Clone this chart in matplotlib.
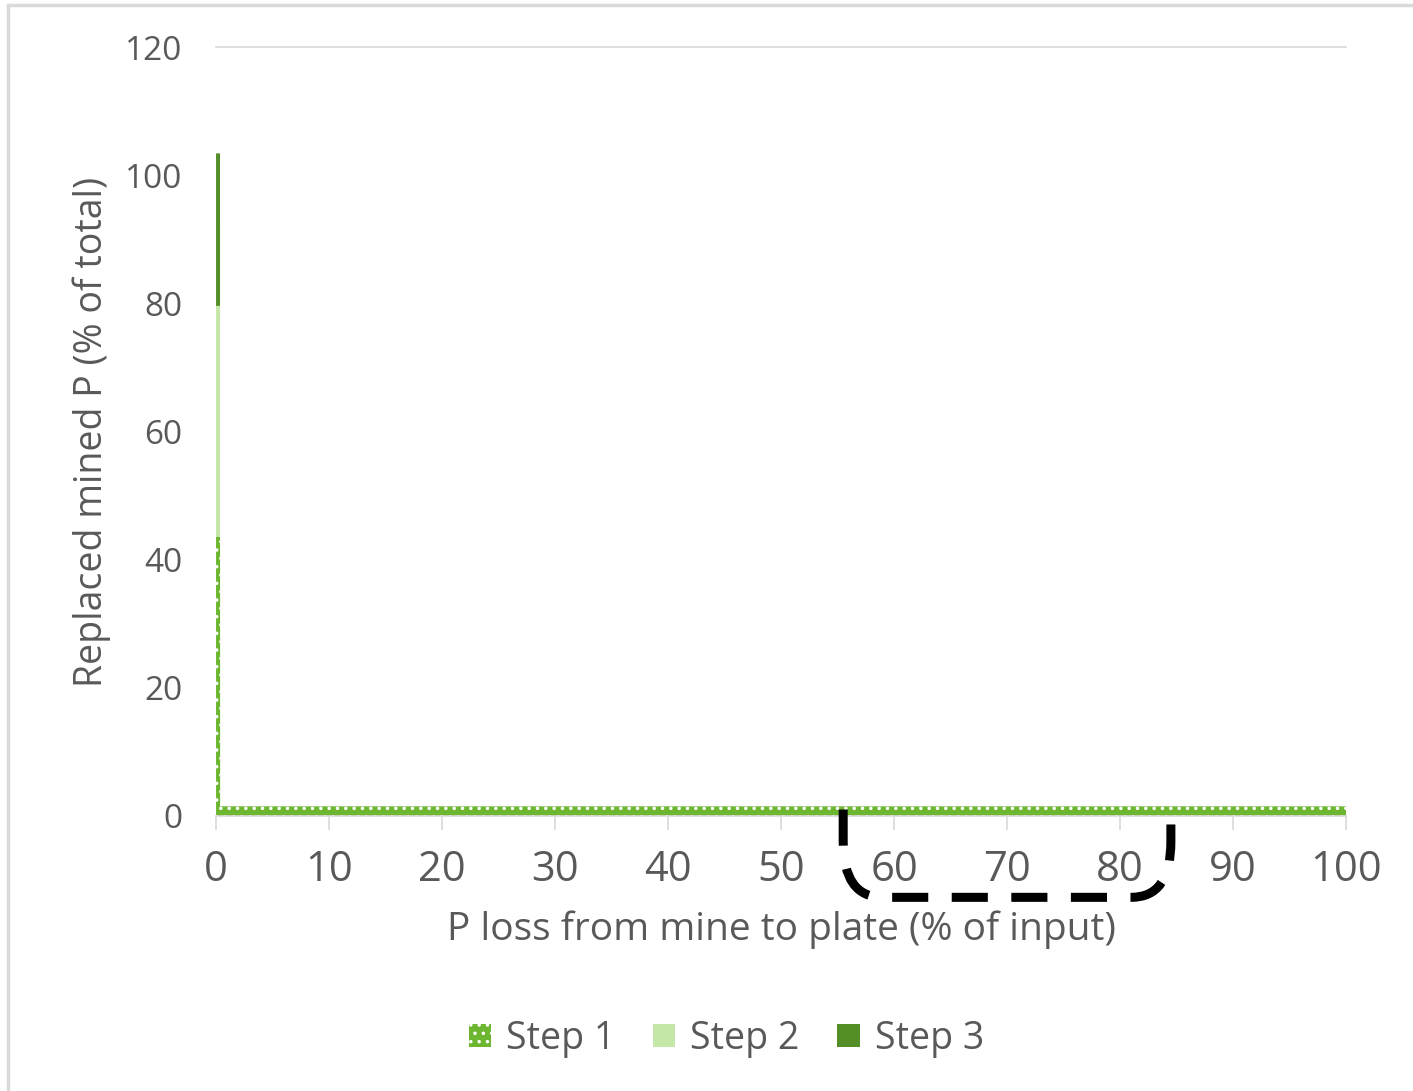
import numpy as np
import matplotlib.pyplot as plt
from matplotlib.path import Path
from matplotlib.patches import PathPatch, Patch

plt.rcParams['font.family'] = ['Open Sans', 'DejaVu Sans']
plt.rcParams['hatch.linewidth'] = 1.3

# data
p_loss = [0, 0.35, 0.36, 100]
step1 = [43.6, 43.6, 1.5, 1.5]
step2 = [36.0, 36.0, 0.0, 0.0]
step3 = [23.8, 23.8, 0.0, 0.0]
labels = ["Step 1", "Step 2", "Step 3"]
xticks = list(range(0, 101, 10))
yticks = list(range(0, 121, 20))

c1 = '#6db62f'
c2 = '#c5e8a9'
c3 = '#548e27'
grey = '#595959'

fig = plt.figure(figsize=(14.13, 10.91), dpi=100)
ax = fig.add_axes([0.1529, 0.2521, 0.7997, 0.7048])

s1 = np.array(step1)
s2 = s1 + np.array(step2)
s3 = s2 + np.array(step3)
ax.fill_between(p_loss, 0, s1, facecolor=c1, edgecolor='white', linewidth=0, hatch='..')
ax.fill_between(p_loss, s1, s2, facecolor=c2, linewidth=0)
ax.fill_between(p_loss, s2, s3, facecolor=c3, linewidth=0)

ax.set_xlim(0, 100)
ax.set_ylim(0, 120)
ax.axhline(120, color='#d9d9d9', lw=1.2, clip_on=False)
for s in ['top', 'right', 'left']:
    ax.spines[s].set_visible(False)
ax.spines['bottom'].set_color('#d9d9d9')
ax.spines['bottom'].set_linewidth(1.2)
ax.set_xticks(xticks)
ax.set_yticks(yticks)
ax.tick_params(axis='x', colors='#d9d9d9', length=10, width=1.2, labelcolor=grey, labelsize=30, pad=14)
ax.tick_params(axis='y', length=0, labelcolor=grey, labelsize=24, pad=24)
ax.set_xlabel("P loss from mine to plate (% of input)", fontsize=28, color=grey, labelpad=14)
ax.set_ylabel("Replaced mined P (% of total)", fontsize=27, color=grey, labelpad=10)

# hand-drawn dashed annotation below 60-80
verts = [(55.5, 1.0), (55.5, -4.0), (55.5, -12.7), (59.0, -12.7),
         (81.0, -12.7), (84.5, -12.7), (84.5, -4.0), (84.5, 1.5)]
codes = [Path.MOVETO, Path.LINETO, Path.CURVE3, Path.CURVE3,
         Path.LINETO, Path.CURVE3, Path.CURVE3, Path.LINETO]
ax.add_patch(PathPatch(Path(verts, codes), fill=False, edgecolor='black', lw=6.5,
                       linestyle=(0, (4.0, 2.6)), clip_on=False, zorder=5))

handles = [Patch(facecolor=c1, edgecolor='white', linewidth=0, hatch='..'),
           Patch(facecolor=c2), Patch(facecolor=c3)]
fig.legend(handles, labels, loc='center', bbox_to_anchor=(0.514, 0.048), ncol=3,
           frameon=False, fontsize=27, labelcolor=grey, handlelength=0.6,
           handleheight=0.6, handletextpad=0.4, columnspacing=1.0)

# outer border
fig.add_artist(plt.Rectangle((0.006, -0.01), 1.2, 1.005, transform=fig.transFigure,
                             fill=False, edgecolor='#d9d9d9', lw=2.5))

fig.savefig('out.png', dpi=100)
